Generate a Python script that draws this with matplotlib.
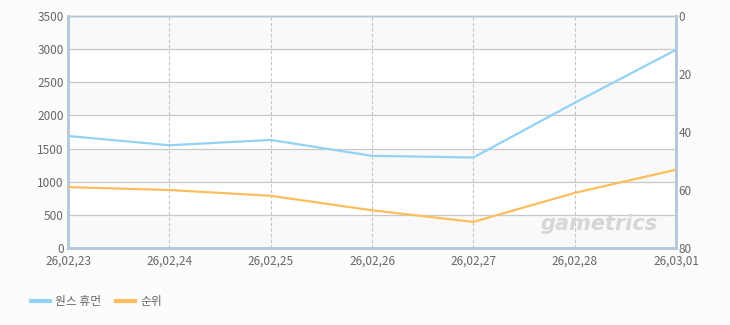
import matplotlib.pyplot as plt
from matplotlib.lines import Line2D

plt.rcParams['font.family'] = ['Noto Sans CJK KR', 'DejaVu Sans']

dates = ['26,02,23', '26,02,24', '26,02,25', '26,02,26', '26,02,27', '26,02,28', '26,03,01']
users = [1690, 1550, 1630, 1390, 1365, 2190, 2990]
rank = [59, 60, 62, 67, 71, 61, 53]

blue = '#92d2f2'
orange = '#fbbe5c'
txt = '#666666'
frame = '#b4c6da'

fig = plt.figure(figsize=(7.3, 3.25), dpi=100)
fig.patch.set_facecolor('#fcfcfc')
ax = fig.add_axes([68/730, 77/325, 608/730, 232/325])
ax.set_facecolor('white')

# alternating bands
for k in range(7):
    if k % 2 == 0:
        ax.axhspan(k*500, (k+1)*500, color='#f9f9f9', zorder=0, lw=0)

x = list(range(len(dates)))
ax.set_xlim(0, len(dates)-1)
ax.set_ylim(0, 3500)
ax.set_yticks(range(0, 3501, 500))
ax.set_xticks(x)
ax.set_xticklabels(dates)
ax.yaxis.grid(True, color='#c8c8c8', lw=0.9, zorder=1)
for xi in x[1:-1]:
    ax.axvline(xi, color='#c4c4c4', lw=0.8, ls=(0, (3, 2)), zorder=1)

ax.plot(x, users, color=blue, lw=1.6, zorder=3)

ax2 = ax.twinx()
ax2.set_ylim(80, 0)
ax2.set_yticks([0, 20, 40, 60, 80])
ax2.plot(x, rank, color=orange, lw=1.6, zorder=3)

for a in (ax, ax2):
    for s in a.spines.values():
        s.set_color(frame)
        s.set_linewidth(1.0)
    a.tick_params(length=0, colors=txt, labelsize=8.5)
ax.spines['left'].set_linewidth(2)
ax.spines['bottom'].set_linewidth(2)
ax2.spines['right'].set_linewidth(2)
ax.tick_params(axis='y', pad=3)
ax.tick_params(axis='x', pad=5)
ax2.tick_params(axis='y', pad=2)

ax.text(0.97, 0.06, 'gametrics', transform=ax.transAxes, ha='right', va='bottom',
        fontsize=15, fontstyle='italic', fontweight='bold', color='#d6d6d6', zorder=2,
        family='DejaVu Sans')

handles = [Line2D([], [], color=blue, lw=3), Line2D([], [], color=orange, lw=3)]
fig.legend(handles, ['원스 휴먼', '순위'], loc='lower left', bbox_to_anchor=(20/730, 6/325),
           ncol=2, frameon=False, fontsize=8.5, labelcolor=txt, handlelength=1.6,
           handletextpad=0.5, columnspacing=1.2)

fig.savefig('out.png', dpi=100, facecolor=fig.get_facecolor())
